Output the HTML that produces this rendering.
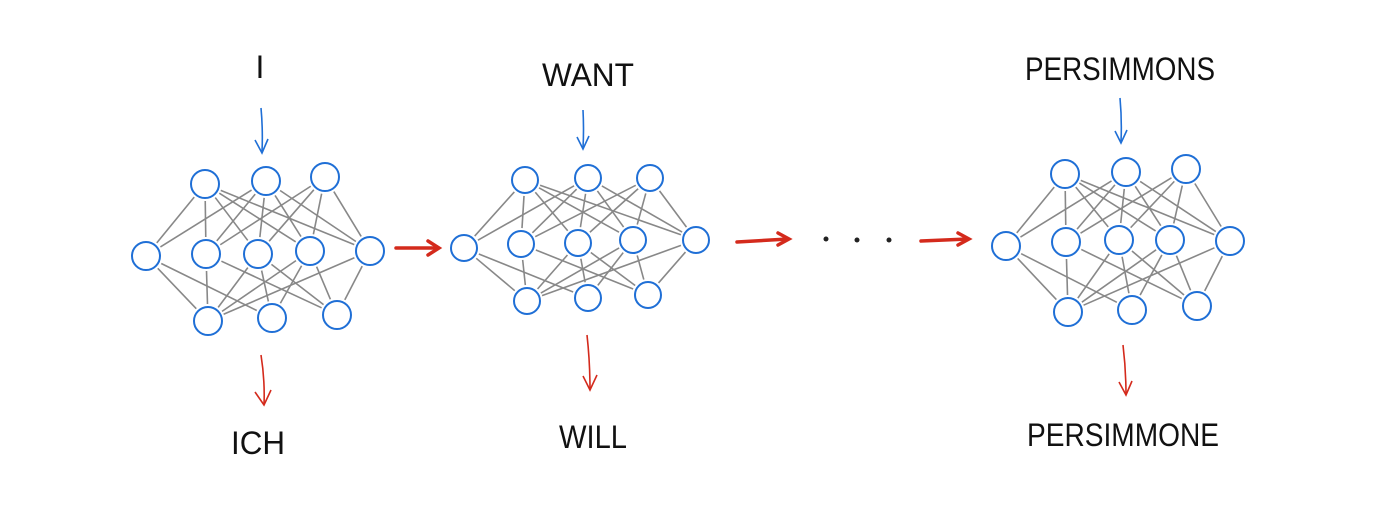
<!DOCTYPE html>
<html><head><meta charset="utf-8"><style>
html,body{margin:0;padding:0;background:#fff;}
svg{display:block}
text{font-family:"Liberation Sans",sans-serif;fill:#111;}
</style></head><body>
<svg id="s" width="1400" height="508" viewBox="0 0 1400 508" xmlns="http://www.w3.org/2000/svg">
<defs>
<marker id="bh" markerWidth="10" markerHeight="10" refX="5" refY="9" orient="auto" markerUnits="userSpaceOnUse"><path d="M0,0 L5,9 L10,1" fill="none" stroke="#1f6fd6" stroke-width="1.6"/></marker>
</defs>
<g id="edges" stroke="#888" stroke-width="1.6" fill="none"></g>
<g id="nodes" stroke="#1f6fd6" stroke-width="2" fill="#fff"></g>
<g font-size="32">
<text x="260" y="78" text-anchor="middle">I</text>
<text x="588" y="86" text-anchor="middle" textLength="92" lengthAdjust="spacingAndGlyphs">WANT</text>
<text x="1120" y="80" text-anchor="middle" textLength="190" lengthAdjust="spacingAndGlyphs">PERSIMMONS</text>
<text x="258" y="454" text-anchor="middle" textLength="54" lengthAdjust="spacingAndGlyphs">ICH</text>
<text x="593" y="448" text-anchor="middle" textLength="68" lengthAdjust="spacingAndGlyphs">WILL</text>
<text x="1123" y="446" text-anchor="middle" textLength="192" lengthAdjust="spacingAndGlyphs">PERSIMMONE</text>
</g>
<g stroke="#1f6fd6" stroke-width="1.6" fill="none">
<path d="M261,108 Q263,130 262,152"/><path d="M255,140 L262,153 L268,139"/>
<path d="M583,110 Q584,130 583,148"/><path d="M577,137 L583,149 L589,136"/>
<path d="M1120,98 Q1122,120 1121,142"/><path d="M1115,131 L1121,143 L1127,130"/>
</g>
<g stroke="#d42a1c" stroke-width="1.6" fill="none">
<path d="M261,355 Q265,380 264,405"/><path d="M255,392 L264,405 L271,390"/>
<path d="M587,335 Q590,362 590,390"/><path d="M583,376 L590,390 L597,375"/>
<path d="M1123,345 Q1126,370 1126,395"/><path d="M1119,382 L1126,395 L1132,381"/>
</g>
<g stroke="#d42a1c" stroke-width="3.5" fill="none" stroke-linecap="round">
<path d="M396,248 L438,248"/><path d="M428,241 L439,248 L428,255"/>
<path d="M737,242 L788,239"/><path d="M778,233 L789,239 L778,245"/>
<path d="M921,241 L968,239"/><path d="M958,233 L969,239 L958,245"/>
</g>
<g fill="#222"><circle cx="826" cy="239" r="2.5"/><circle cx="857" cy="240" r="2.5"/><circle cx="889" cy="240" r="2.5"/></g>
</svg>
<script>
var nets=[
{t:[[205,184],[266,181],[325,177]],m:[[146,256],[206,254],[258,254],[310,251],[370,251]],b:[[208,321],[272,318],[337,315]],r:14},
{t:[[525,180],[588,178],[650,178]],m:[[464,248],[521,244],[578,243],[633,240],[696,240]],b:[[527,301],[588,298],[648,295]],r:13},
{t:[[1065,174],[1126,172],[1186,169]],m:[[1006,246],[1066,242],[1119,240],[1170,240],[1230,241]],b:[[1068,312],[1132,310],[1197,306]],r:14}];
var tm=[[0,0],[0,1],[0,2],[0,3],[1,1],[1,2],[1,3],[1,4],[2,1],[2,2],[2,3],[2,4],[1,0],[0,4]];
var mb=[[0,0],[0,1],[1,0],[1,2],[2,0],[2,1],[3,1],[3,2],[4,2],[4,0],[2,2],[3,0]];
var E=document.getElementById('edges'),N=document.getElementById('nodes'),ns='http://www.w3.org/2000/svg';
function ln(a,b,r){var dx=b[0]-a[0],dy=b[1]-a[1],d=Math.hypot(dx,dy),ux=dx/d,uy=dy/d;
var l=document.createElementNS(ns,'line');l.setAttribute('x1',a[0]+ux*r);l.setAttribute('y1',a[1]+uy*r);
l.setAttribute('x2',b[0]-ux*r);l.setAttribute('y2',b[1]-uy*r);E.appendChild(l);}
nets.forEach(function(n){
tm.forEach(function(p){ln(n.t[p[0]],n.m[p[1]],n.r+3);});
mb.forEach(function(p){ln(n.m[p[0]],n.b[p[1]],n.r+3);});
n.t.concat(n.m,n.b).forEach(function(c){var e=document.createElementNS(ns,'circle');
e.setAttribute('cx',c[0]);e.setAttribute('cy',c[1]);e.setAttribute('r',n.r);N.appendChild(e);});
});
</script>
</body></html>
